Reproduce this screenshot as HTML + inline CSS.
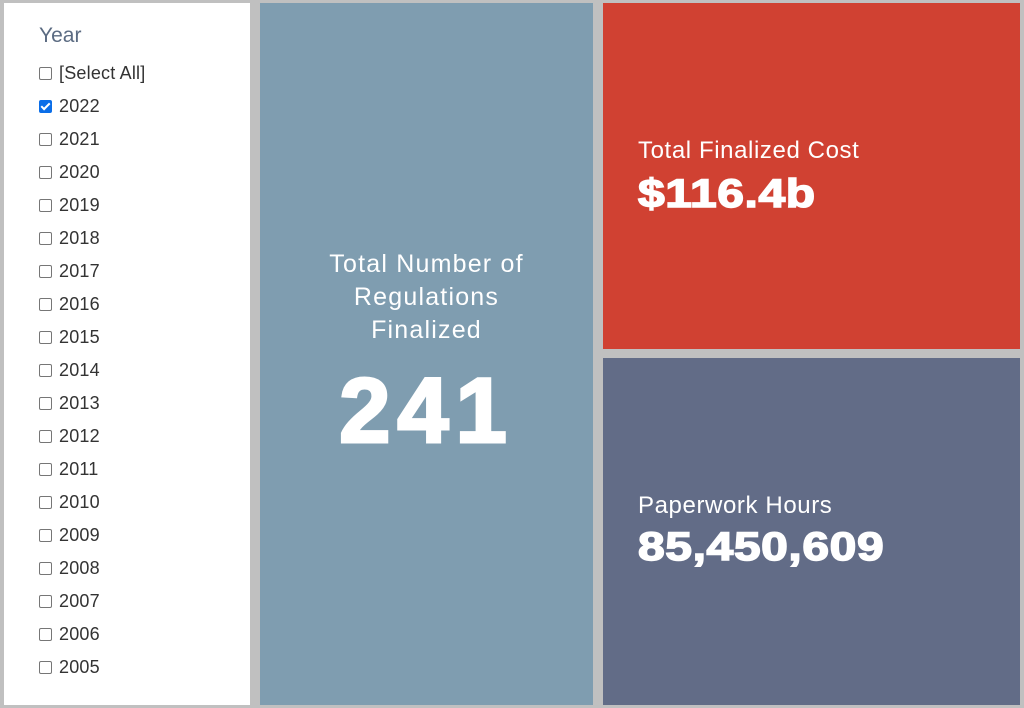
<!DOCTYPE html>
<html><head><style>
body{margin:0;width:1024px;height:708px;background:#c0c0c0;position:relative;overflow:hidden;font-family:"Liberation Sans",Arial,sans-serif}
.p{position:absolute}
#left{left:4px;top:3px;width:246px;height:702px;background:#fff}
#blue{left:260px;top:3px;width:333px;height:702px;background:#7f9db0;color:#fff;text-align:center}
#red{left:603px;top:3px;width:417px;height:346px;background:#d04132;color:#fff}
#dark{left:603px;top:358px;width:417px;height:347px;background:#626c87;color:#fff}
.row{position:absolute;left:35px;font-size:18px;letter-spacing:0.2px;color:#333;height:20px;line-height:20px}
.cb{display:inline-block;width:13px;height:13px;border:1px solid #767676;border-radius:2px;vertical-align:-1px;margin-right:7px;box-sizing:border-box;background:#fff}
.cb.on{background:#0b6ee8;border-color:#0b6ee8;position:relative}
.cb.on:after{content:"";position:absolute;left:3px;top:0px;width:3px;height:7px;border:solid #fff;border-width:0 2px 2px 0;transform:rotate(45deg)}
.lbl{font-size:24px;letter-spacing:0.6px;position:absolute;left:35px}
.big{font-size:40px;font-weight:bold;position:absolute;left:35px;-webkit-text-stroke:1.5px #fff;transform:scaleX(1.2);transform-origin:0 0;letter-spacing:0.5px}
</style></head><body>
<div class="p" id="left">
<div style="position:absolute;left:35px;top:21px;font-size:21px;color:#5b6b82">Year</div>
<div class="row" style="top:60px"><span class="cb"></span>[Select All]</div>
<div class="row" style="top:93px"><span class="cb on"></span>2022</div>
<div class="row" style="top:126px"><span class="cb"></span>2021</div>
<div class="row" style="top:159px"><span class="cb"></span>2020</div>
<div class="row" style="top:192px"><span class="cb"></span>2019</div>
<div class="row" style="top:225px"><span class="cb"></span>2018</div>
<div class="row" style="top:258px"><span class="cb"></span>2017</div>
<div class="row" style="top:291px"><span class="cb"></span>2016</div>
<div class="row" style="top:324px"><span class="cb"></span>2015</div>
<div class="row" style="top:357px"><span class="cb"></span>2014</div>
<div class="row" style="top:390px"><span class="cb"></span>2013</div>
<div class="row" style="top:423px"><span class="cb"></span>2012</div>
<div class="row" style="top:456px"><span class="cb"></span>2011</div>
<div class="row" style="top:489px"><span class="cb"></span>2010</div>
<div class="row" style="top:522px"><span class="cb"></span>2009</div>
<div class="row" style="top:555px"><span class="cb"></span>2008</div>
<div class="row" style="top:588px"><span class="cb"></span>2007</div>
<div class="row" style="top:621px"><span class="cb"></span>2006</div>
<div class="row" style="top:654px"><span class="cb"></span>2005</div>
</div>
<div class="p" id="blue">
<div style="position:absolute;left:0;right:0;top:245px;font-size:25px;line-height:33px;letter-spacing:1.2px">Total Number of<br>Regulations<br>Finalized</div>
<div style="position:absolute;left:0;right:0;top:358px;font-size:92px;font-weight:bold;line-height:100px;-webkit-text-stroke:3px #fff;letter-spacing:7px">241</div>
</div>
<div class="p" id="red">
<div class="lbl" style="top:134px">Total Finalized Cost</div>
<div class="big" style="top:169px">$116.4b</div>
</div>
<div class="p" id="dark">
<div class="lbl" style="top:134px">Paperwork Hours</div>
<div class="big" style="top:167px">85,450,609</div>
</div>
</body></html>
